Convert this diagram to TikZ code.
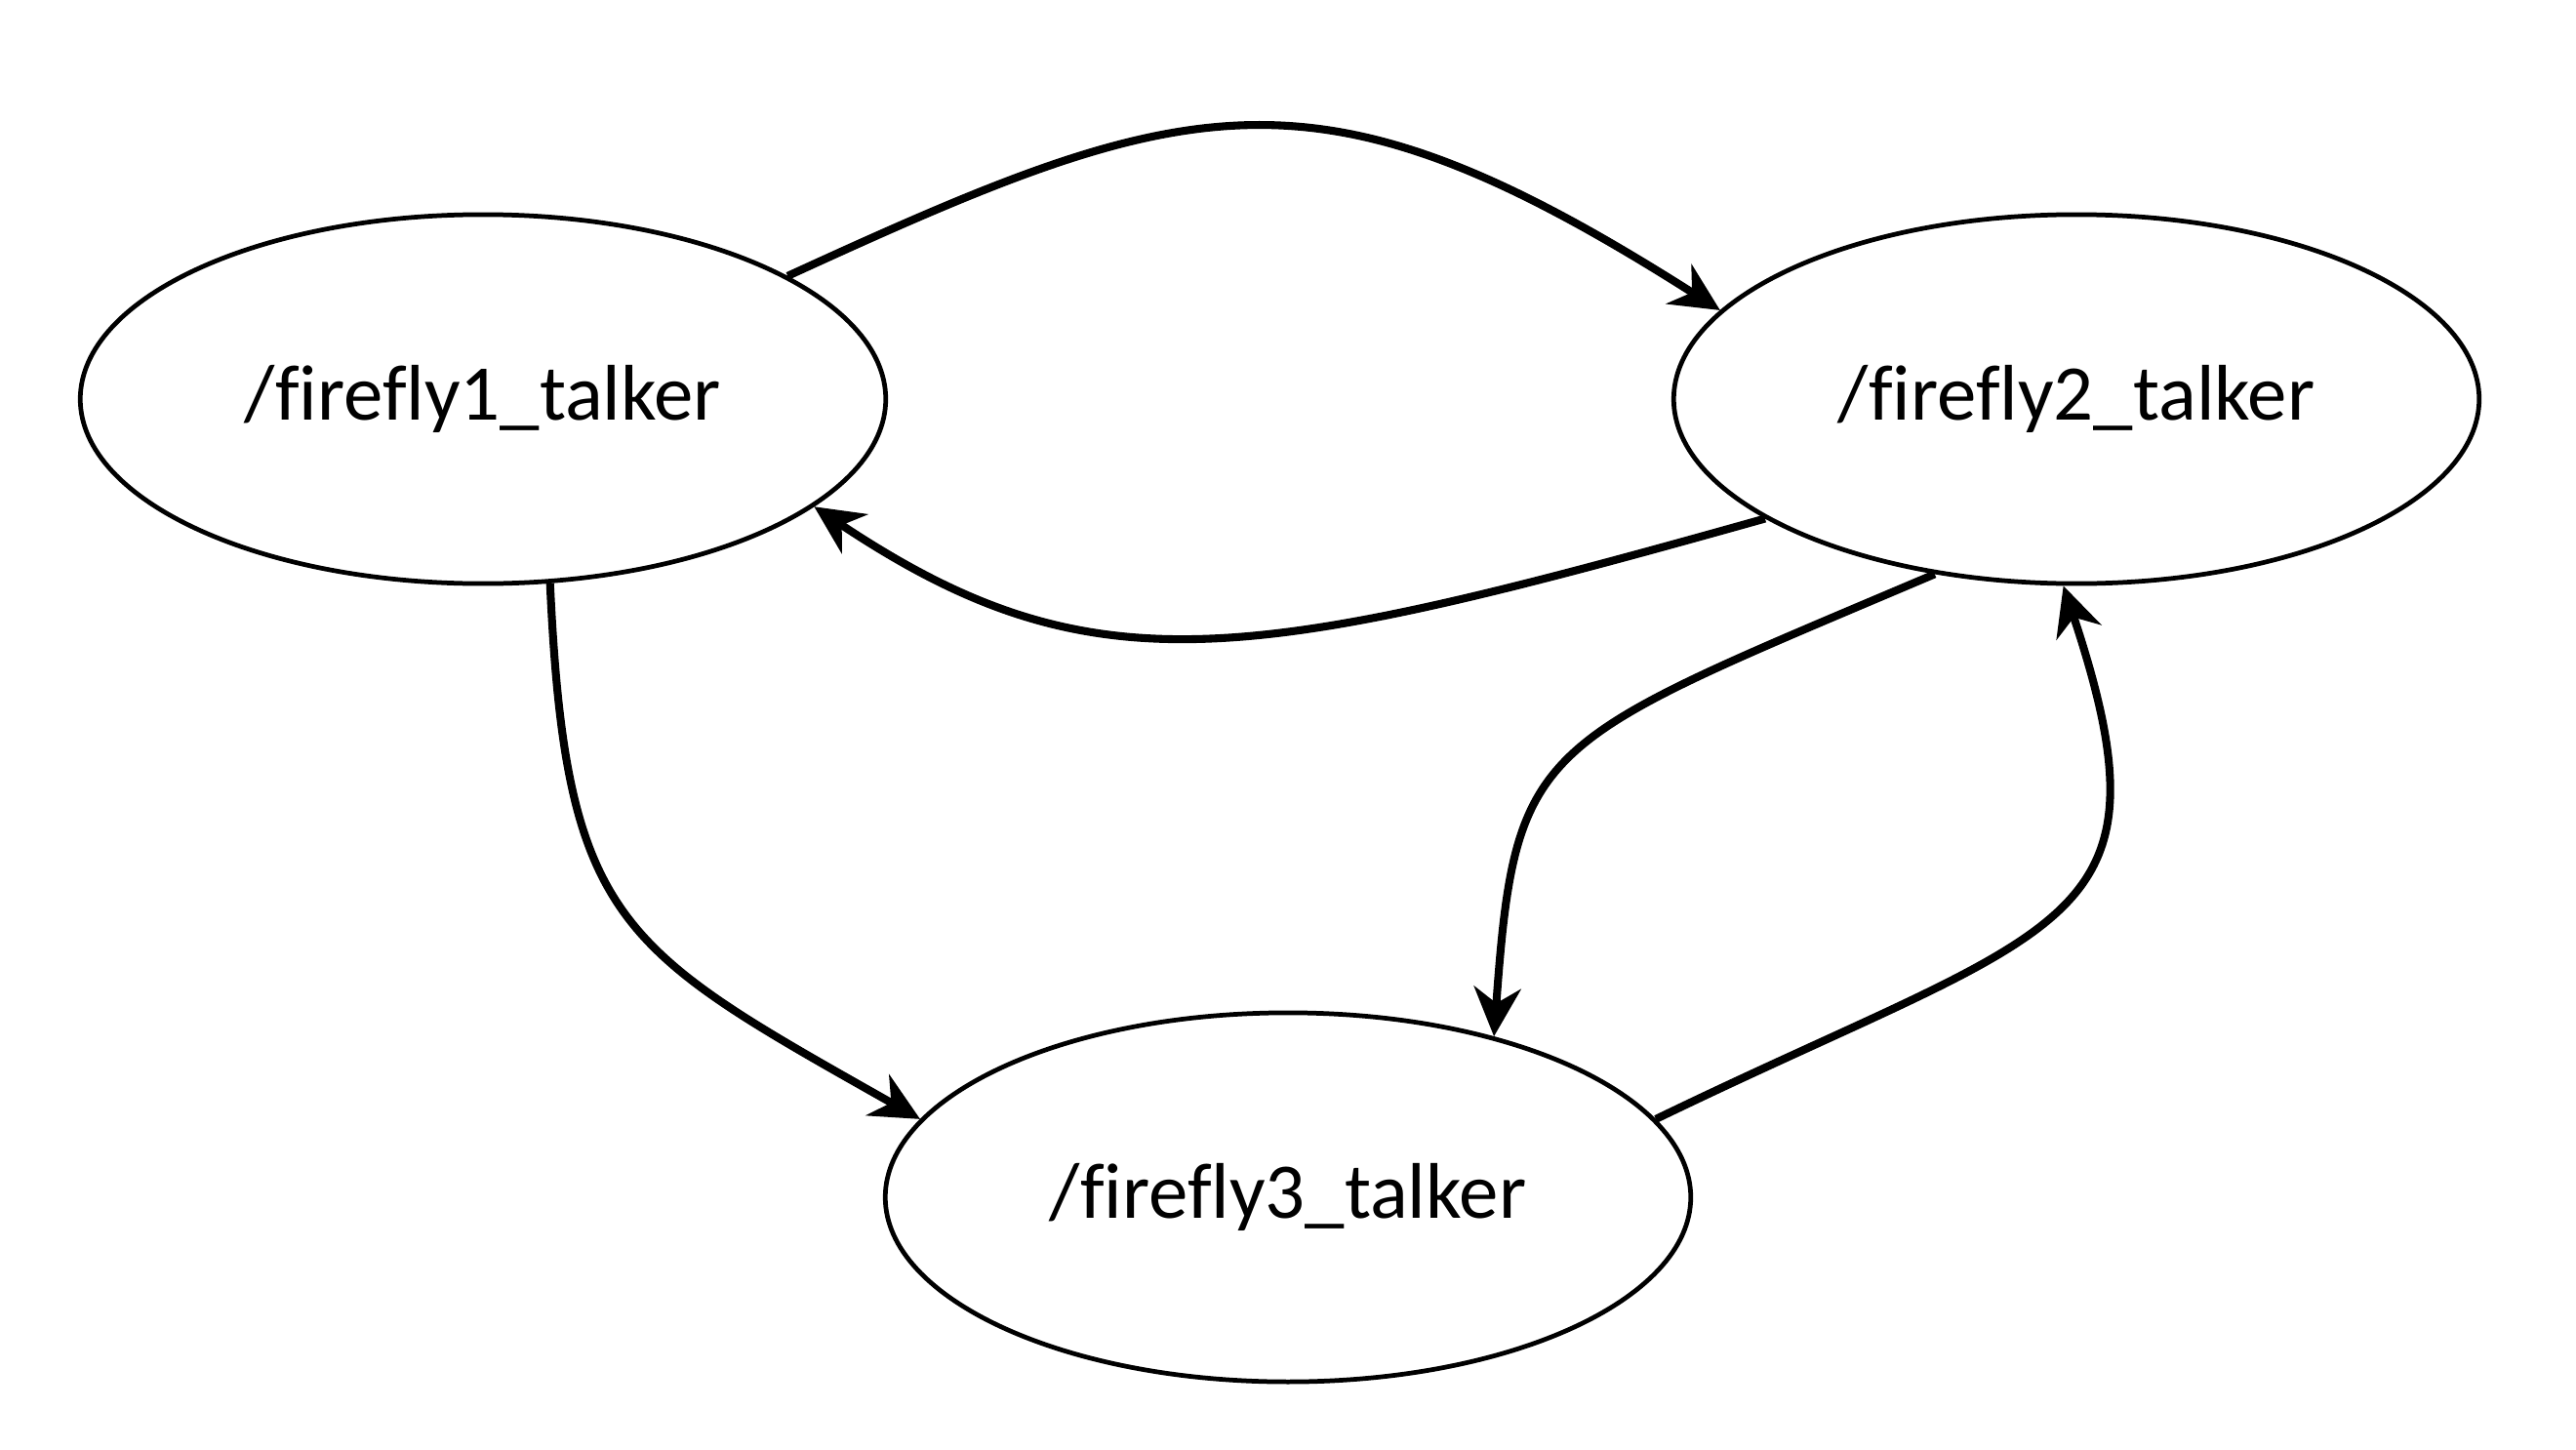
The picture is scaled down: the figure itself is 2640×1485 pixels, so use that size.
\documentclass[tikz,border=0pt]{standalone}
\usepackage{fontspec}
\setmainfont{Carlito}[Ligatures=NoCommon]
\usetikzlibrary{arrows.meta,shapes.geometric}
\tikzset{
  talker/.style={draw, ellipse, line width=1.35pt, minimum width=8.25cm, minimum height=3.78cm, inner sep=0pt, font=\fontsize{23}{28}\selectfont},
  link/.style={line width=2.3pt, -{Stealth[length=0.5cm,width=0.48cm,inset=0.16cm]}}
}
\begin{document}
\begin{tikzpicture}[x=0.01cm,y=-0.01cm]
\useasboundingbox (0,0) rectangle (2640,1485);
\node[talker] (e1) at (495,409) {/firefly1\_talker};
\node[talker] (e2) at (2128,409) {/firefly2\_talker};
\node[talker] (e3) at (1320,1227) {/firefly3\_talker};
\draw[link] (e1.22.6) .. controls (1221,93) and (1348,54) .. (e2.166.5);
\draw[link] (e2.201) .. controls (1280,680) and (1120,710) .. (e1.-18.5);
\draw[link] (e1.-70.5) .. controls (580,948) and (634,972) .. (e3.168);
\draw[link] (e2.-129.4) .. controls (1572,763) and (1553,757) .. (e3.38.7);
\draw[link] (e3.12.4) .. controls (2116,944) and (2233,956) .. (e2.-94.9);
\end{tikzpicture}
\end{document}
